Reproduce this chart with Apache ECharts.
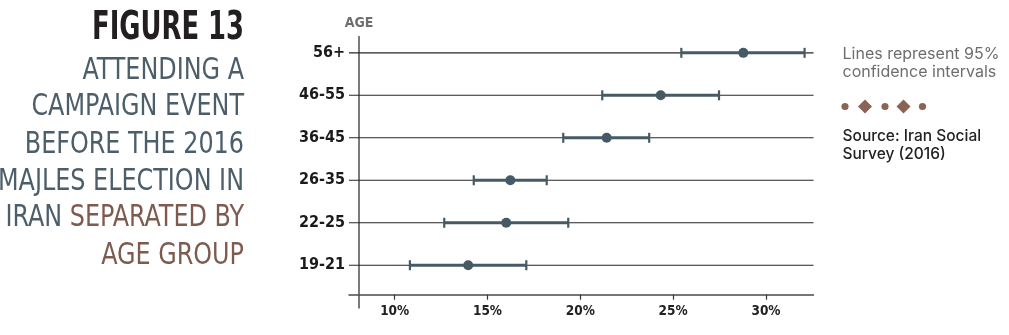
<!DOCTYPE html>
<html>
<head>
<meta charset="utf-8">
<script src="https://cdn.jsdelivr.net/npm/echarts@6/dist/echarts.min.js"></script>
<style>
  html, body { margin: 0; padding: 0; background: #ffffff; }
  #chart { width: 1009px; height: 335px; }
</style>
</head>
<body>
<div id="chart"></div>
<script>
// ---- Data ----
const categories = ['19-21', '22-25', '26-35', '36-45', '46-55', '56+'];
const estimates = [13.96, 16.01, 16.23, 21.42, 24.33, 28.78];
const lowerCI = [10.82, 12.67, 14.26, 19.08, 21.18, 25.44];
const upperCI = [17.09, 19.35, 18.19, 23.71, 27.47, 32.08];
const xTickValues = [10, 15, 20, 25, 30];
const rowIndices = [0, 1, 2, 3, 4, 5];

const titleLines = ['ATTENDING A', 'CAMPAIGN EVENT', 'BEFORE THE 2016', 'MAJLES ELECTION IN'];

// ---- Styles ----
const COND = '"DejaVu Sans Condensed", "DejaVu Sans", sans-serif';
const SLATE = '#4d5e6b';
const BROWN = '#7d5c4f';
const MARK = '#465a66';

function textWidth(text, font) {
  const ctx = document.createElement('canvas').getContext('2d');
  ctx.font = font;
  return ctx.measureText(text).width;
}

const chart = echarts.init(document.getElementById('chart'), null, { renderer: 'canvas' });

const FIG_FONT = 'bold 39px ' + COND;
const SUB_FONT = '30px ' + COND;
const figScale = 152 / textWidth('FIGURE 13', FIG_FONT);
const subScale = 246 / textWidth('MAJLES ELECTION IN', SUB_FONT);

const graphics = [];
graphics.push({
  type: 'text', x: 244, y: 28.5, scaleX: figScale,
  style: { text: 'FIGURE 13', font: FIG_FONT, fill: '#231f20', align: 'right', verticalAlign: 'middle' }
});
const lineCenters = [71, 107.5, 145, 182, 218.5, 256];
titleLines.forEach((t, i) => {
  graphics.push({
    type: 'text', x: 244, y: lineCenters[i], scaleX: subScale,
    style: { text: t, font: SUB_FONT, fill: SLATE, align: 'right', verticalAlign: 'middle' }
  });
});
graphics.push({
  type: 'text', x: 244, y: lineCenters[4], scaleX: subScale,
  style: {
    text: '{a|IRAN }{b|SEPARATED BY}', align: 'right', verticalAlign: 'middle',
    rich: {
      a: { font: SUB_FONT, fill: SLATE },
      b: { font: SUB_FONT, fill: BROWN }
    }
  }
});
graphics.push({
  type: 'text', x: 244, y: lineCenters[5], scaleX: subScale,
  style: { text: 'AGE GROUP', font: SUB_FONT, fill: BROWN, align: 'right', verticalAlign: 'middle' }
});

// right-side notes
const NOTE_FAMILY = 'Inter';
graphics.push({
  type: 'text', x: 842.5, y: 54,
  style: { text: 'Lines represent 95%', fontFamily: NOTE_FAMILY, fontSize: 16, fontWeight: 'normal', fill: '#6d6d6d', align: 'left', verticalAlign: 'middle' }
});
graphics.push({
  type: 'text', x: 842.5, y: 72.5,
  style: { text: 'confidence intervals', fontFamily: NOTE_FAMILY, fontSize: 16, fontWeight: 'normal', fill: '#6d6d6d', align: 'left', verticalAlign: 'middle' }
});
const DOT = '#8c6255';
[845, 885, 922.5].forEach(cx => {
  graphics.push({ type: 'circle', shape: { cx: cx, cy: 106.5, r: 3.6 }, style: { fill: DOT } });
});
[865, 903.5].forEach(cx => {
  graphics.push({ type: 'polygon', shape: { points: [[cx, 99.5], [cx + 7, 106.5], [cx, 113.5], [cx - 7, 106.5]] }, style: { fill: DOT } });
});
graphics.push({
  type: 'text', x: 842.5, y: 136,
  style: { text: 'Source: Iran Social', fontFamily: NOTE_FAMILY, fontSize: 15.5, fontWeight: 500, fill: '#222222', align: 'left', verticalAlign: 'middle' }
});
graphics.push({
  type: 'text', x: 842.5, y: 154.5,
  style: { text: 'Survey (2016)', fontFamily: NOTE_FAMILY, fontSize: 15.5, fontWeight: 500, fill: '#222222', align: 'left', verticalAlign: 'middle' }
});

const option = {
  backgroundColor: '#ffffff',
  animation: false,
  graphic: graphics,
  grid: { left: 349, right: 195.5, top: 36.7, bottom: 27.3, containLabel: false },
  xAxis: {
    type: 'value',
    min: 7.54,
    max: 32.56,
    offset: -13,
    axisLine: { onZero: false, lineStyle: { color: '#4a4a4a', width: 1.5 } },
    axisTick: { show: true, customValues: xTickValues, length: 5, lineStyle: { color: '#333333', width: 1.2 } },
    axisLabel: {
      customValues: xTickValues,
      formatter: v => v + '%',
      margin: 10,
      color: '#222222',
      fontFamily: COND,
      fontWeight: 'bold',
      fontSize: 13.5
    },
    splitLine: { show: false }
  },
  yAxis: {
    type: 'value',
    min: -1,
    max: 5.38,
    offset: -10,
    name: 'AGE',
    nameLocation: 'end',
    nameGap: 6,
    nameTextStyle: { color: '#6e6e6e', fontFamily: COND, fontWeight: 'bold', fontSize: 14, align: 'center' },
    axisLine: { onZero: false, lineStyle: { color: '#7a7a7a', width: 2 } },
    axisTick: { show: false },
    axisLabel: {
      customValues: rowIndices,
      formatter: v => categories[v] || '',
      margin: 14,
      color: '#1b1b1b',
      fontFamily: COND,
      fontWeight: 'bold',
      fontSize: 16
    },
    splitLine: { show: false }
  },
  series: [
    {
      name: 'rows',
      type: 'custom',
      silent: true,
      z: 1,
      data: rowIndices.map(i => [i]),
      encode: { y: 0 },
      renderItem: function (params, api) {
        const cs = params.coordSys;
        const yy = api.coord([10, api.value(0)])[1];
        return {
          type: 'line',
          shape: { x1: cs.x, y1: yy, x2: cs.x + cs.width, y2: yy },
          style: { stroke: '#262626', lineWidth: 1.1 }
        };
      }
    },
    {
      name: 'ci',
      type: 'custom',
      z: 2,
      data: rowIndices.map(i => [lowerCI[i], upperCI[i], i]),
      encode: { x: [0, 1], y: 2 },
      renderItem: function (params, api) {
        const lo = api.coord([api.value(0), api.value(2)]);
        const hi = api.coord([api.value(1), api.value(2)]);
        const h = 5;
        const st = { stroke: MARK, lineWidth: 3 };
        return {
          type: 'group',
          children: [
            { type: 'line', shape: { x1: lo[0], y1: lo[1], x2: hi[0], y2: hi[1] }, style: st },
            { type: 'line', shape: { x1: lo[0], y1: lo[1] - h, x2: lo[0], y2: lo[1] + h }, style: { stroke: MARK, lineWidth: 2.2 } },
            { type: 'line', shape: { x1: hi[0], y1: hi[1] - h, x2: hi[0], y2: hi[1] + h }, style: { stroke: MARK, lineWidth: 2.2 } }
          ]
        };
      }
    },
    {
      name: 'estimate',
      type: 'scatter',
      z: 3,
      symbol: 'circle',
      symbolSize: 10,
      itemStyle: { color: MARK, opacity: 1 },
      data: rowIndices.map(i => [estimates[i], i])
    }
  ]
};

chart.setOption(option);
</script>
</body>
</html>
